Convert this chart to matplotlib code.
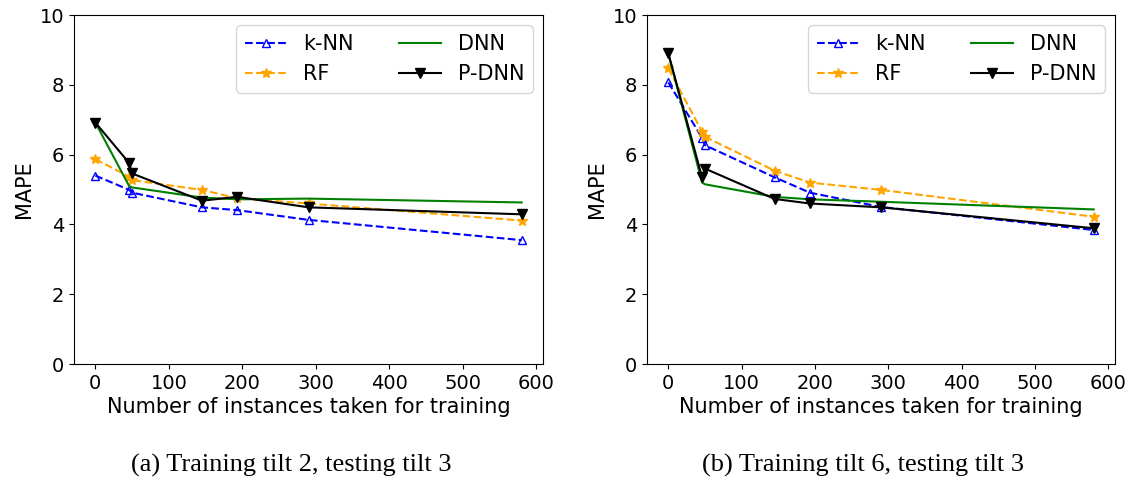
import matplotlib
matplotlib.use("Agg")
import matplotlib.pyplot as plt

x_instances = [0, 46, 50, 145, 193, 290, 580]

# Panel (a): training tilt 2, testing tilt 3
a_knn = [5.40, 4.99, 4.91, 4.49, 4.41, 4.13, 3.55]
a_rf = [5.87, 5.37, 5.27, 4.99, 4.75, 4.60, 4.11]
a_dnn = [6.92, 5.10, 5.06, 4.77, 4.72, 4.74, 4.63]
a_pdnn = [6.92, 5.76, 5.46, 4.68, 4.79, 4.49, 4.29]

# Panel (b): training tilt 6, testing tilt 3
b_knn = [8.07, 6.48, 6.27, 5.35, 4.91, 4.50, 3.84]
b_rf = [8.47, 6.66, 6.51, 5.54, 5.20, 4.99, 4.22]
b_dnn = [8.90, 5.20, 5.15, 4.79, 4.72, 4.65, 4.43]
b_pdnn = [8.90, 5.35, 5.60, 4.73, 4.60, 4.49, 3.89]

labels = ["k-NN", "RF", "DNN", "P-DNN"]
captions = ["(a) Training tilt 2, testing tilt 3", "(b) Training tilt 6, testing tilt 3"]
yticks = [0, 2, 4, 6, 8, 10]
xticks = [0, 100, 200, 300, 400, 500, 600]

plt.rcParams['font.family'] = ['DejaVu Sans']
fig = plt.figure(figsize=(11.32, 4.86), dpi=100)
ax1 = fig.add_axes([0.0654, 0.251, 0.4143, 0.718])
ax2 = fig.add_axes([0.5716, 0.251, 0.4134, 0.718])

panels = [(ax1, a_knn, a_rf, a_dnn, a_pdnn), (ax2, b_knn, b_rf, b_dnn, b_pdnn)]
for i, (ax, knn, rf, dnn, pdnn) in enumerate(panels):
    ax.plot(x_instances, knn, linestyle='--', color='blue', marker='^',
            fillstyle='none', markersize=6, linewidth=1.5, label=labels[0])
    ax.plot(x_instances, rf, linestyle='--', color='orange', marker='*',
            markersize=7, linewidth=1.5, label=labels[1])
    ax.plot(x_instances, dnn, linestyle='-', color='green', linewidth=1.5,
            label=labels[2])
    ax.plot(x_instances, pdnn, linestyle='-', color='black', marker='v',
            markersize=6.5, linewidth=1.5, label=labels[3])
    ax.set_ylim(0, 10)
    ax.set_yticks(yticks)
    ax.set_xticks(xticks)
    ax.tick_params(labelsize=14)
    ax.set_xlabel("Number of instances taken for training", fontsize=15, labelpad=3)
    ax.set_ylabel("MAPE", fontsize=15)
    ax.legend(loc='upper right', ncol=2, fontsize=15, columnspacing=2.2,
              handlelength=2.0)

fig.text(0.257, 0.043, captions[0], ha='center', va='center',
         family=['Liberation Serif'], fontsize=19)
fig.text(0.762, 0.043, captions[1], ha='center', va='center',
         family=['Liberation Serif'], fontsize=19)

fig.savefig("out.png", dpi=100)
